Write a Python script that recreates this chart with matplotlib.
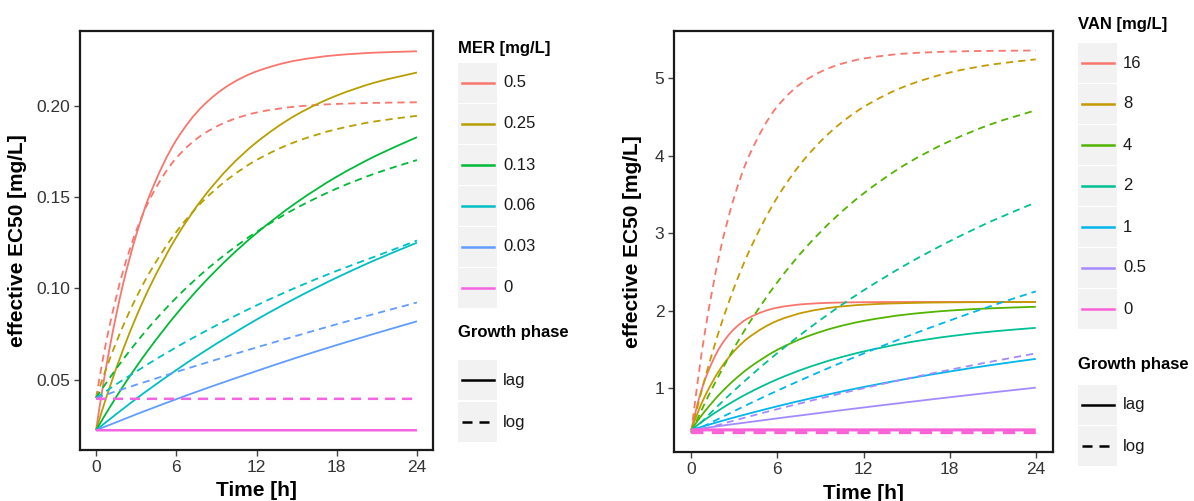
import matplotlib
matplotlib.use("Agg")
import matplotlib.pyplot as plt
from matplotlib.patches import Rectangle, PathPatch
from matplotlib.path import Path
from matplotlib.lines import Line2D

plt.rcParams['font.family'] = ['Liberation Sans', 'DejaVu Sans']

# ---------------------------------------------------------------- data
hours = [0, 0.5, 1, 2, 3, 4, 6, 8, 10, 12, 15, 18, 21, 24]

mer_levels = ['0.5', '0.25', '0.13', '0.06', '0.03', '0']
mer_colors = ['#F8766D', '#B79F00', '#00BA38', '#00BFC4', '#619CFF', '#F564E3']

# meropenem, lag-phase inoculum
mer_lag = [
    [0.0224, 0.0459, 0.0668, 0.1017, 0.1291, 0.1508, 0.1811, 0.1999, 0.2115, 0.2187, 0.2247, 0.2276, 0.2290, 0.2297],
    [0.0224, 0.0343, 0.0455, 0.0661, 0.0844, 0.1006, 0.1279, 0.1495, 0.1665, 0.1799, 0.1950, 0.2055, 0.2129, 0.2181],
    [0.0224, 0.0286, 0.0346, 0.0462, 0.0570, 0.0672, 0.0859, 0.1025, 0.1172, 0.1302, 0.1470, 0.1611, 0.1728, 0.1827],
    [0.0224, 0.0254, 0.0283, 0.0340, 0.0396, 0.0450, 0.0553, 0.0651, 0.0742, 0.0829, 0.0949, 0.1059, 0.1159, 0.1250],
    [0.0224, 0.0239, 0.0253, 0.0282, 0.0311, 0.0339, 0.0394, 0.0447, 0.0498, 0.0548, 0.0621, 0.0690, 0.0756, 0.0820],
    [0.0224, 0.0224, 0.0224, 0.0224, 0.0224, 0.0224, 0.0224, 0.0224, 0.0224, 0.0224, 0.0224, 0.0224, 0.0224, 0.0224],
]
# meropenem, log-phase inoculum
mer_log = [
    [0.0400, 0.0609, 0.0792, 0.1089, 0.1314, 0.1485, 0.1713, 0.1843, 0.1918, 0.1962, 0.1995, 0.2009, 0.2015, 0.2018],
    [0.0400, 0.0508, 0.0609, 0.0791, 0.0949, 0.1086, 0.1309, 0.1478, 0.1605, 0.1702, 0.1804, 0.1871, 0.1915, 0.1944],
    [0.0400, 0.0455, 0.0508, 0.0609, 0.0703, 0.0791, 0.0949, 0.1086, 0.1205, 0.1309, 0.1440, 0.1546, 0.1632, 0.1702],
    [0.0400, 0.0425, 0.0450, 0.0499, 0.0545, 0.0591, 0.0678, 0.0759, 0.0835, 0.0907, 0.1006, 0.1096, 0.1178, 0.1262],
    [0.0400, 0.0412, 0.0425, 0.0449, 0.0473, 0.0496, 0.0543, 0.0588, 0.0633, 0.0677, 0.0741, 0.0804, 0.0864, 0.0923],
    [0.0396, 0.0396, 0.0396, 0.0396, 0.0396, 0.0396, 0.0396, 0.0396, 0.0396, 0.0396, 0.0396, 0.0396, 0.0396, 0.0396],
]

van_levels = ['16', '8', '4', '2', '1', '0.5', '0']
van_colors = ['#F8766D', '#C49A00', '#53B400', '#00C094', '#00B6EB', '#A58AFF', '#FB61D7']

# vancomycin, lag-phase inoculum
van_lag = [
    [0.465, 0.843, 1.134, 1.532, 1.768, 1.909, 2.042, 2.089, 2.106, 2.112, 2.115, 2.115, 2.115, 2.115],
    [0.465, 0.709, 0.917, 1.245, 1.483, 1.656, 1.873, 1.987, 2.048, 2.080, 2.101, 2.110, 2.113, 2.114],
    [0.465, 0.597, 0.717, 0.930, 1.110, 1.262, 1.498, 1.665, 1.785, 1.870, 1.954, 2.004, 2.034, 2.053],
    [0.465, 0.536, 0.603, 0.727, 0.840, 0.942, 1.118, 1.262, 1.380, 1.476, 1.589, 1.673, 1.735, 1.781],
    [0.465, 0.493, 0.520, 0.574, 0.626, 0.675, 0.770, 0.858, 0.941, 1.018, 1.123, 1.218, 1.304, 1.381],
    [0.465, 0.478, 0.491, 0.516, 0.541, 0.565, 0.614, 0.661, 0.708, 0.754, 0.821, 0.886, 0.949, 1.010],
    [0.465, 0.465, 0.465, 0.465, 0.465, 0.465, 0.465, 0.465, 0.465, 0.465, 0.465, 0.465, 0.465, 0.465],
]
# vancomycin, log-phase inoculum
van_log = [
    [0.430, 1.159, 1.780, 2.760, 3.472, 3.989, 4.637, 4.979, 5.159, 5.254, 5.320, 5.344, 5.354, 5.358],
    [0.430, 0.808, 1.158, 1.778, 2.306, 2.756, 3.466, 3.982, 4.357, 4.629, 4.904, 5.074, 5.179, 5.244],
    [0.430, 0.633, 0.828, 1.193, 1.527, 1.833, 2.370, 2.821, 3.198, 3.514, 3.897, 4.189, 4.415, 4.588],
    [0.430, 0.525, 0.619, 0.800, 0.974, 1.141, 1.456, 1.747, 2.016, 2.264, 2.600, 2.898, 3.164, 3.398],
    [0.430, 0.478, 0.525, 0.617, 0.708, 0.798, 0.971, 1.137, 1.297, 1.450, 1.669, 1.875, 2.070, 2.252],
    [0.430, 0.457, 0.483, 0.535, 0.586, 0.636, 0.733, 0.826, 0.916, 1.002, 1.125, 1.240, 1.349, 1.452],
    [0.430, 0.430, 0.430, 0.430, 0.430, 0.430, 0.430, 0.430, 0.430, 0.430, 0.430, 0.430, 0.430, 0.430],
]

time_ticks = [0, 6, 12, 18, 24]
mer_yticks = [0.05, 0.10, 0.15, 0.20]
van_yticks = [1, 2, 3, 4, 5]

# ---------------------------------------------------------------- layout
W, H = 1194, 501
fig = plt.figure(figsize=(W / 100, H / 100), dpi=100)
fig.patch.set_facecolor('white')

LW = 1.3
DASH = (4, 2.8)
TICK_COLOR = '#333333'


def frac(x, y):
    """Pixel position (from top-left) to figure fraction."""
    return x / W, 1 - y / H


def smooth_path(xs, ys):
    """Cubic Bezier path through the points, with monotone (Fritsch-Carlson) tangents."""
    n = len(xs)
    h = [xs[i + 1] - xs[i] for i in range(n - 1)]
    d = [(ys[i + 1] - ys[i]) / h[i] for i in range(n - 1)]
    m = [0.0] * n
    m[0], m[-1] = d[0], d[-1]
    for i in range(1, n - 1):
        if d[i - 1] * d[i] <= 0:
            m[i] = 0.0
        else:
            w1 = 2 * h[i] + h[i - 1]
            w2 = h[i] + 2 * h[i - 1]
            m[i] = (w1 + w2) / (w1 / d[i - 1] + w2 / d[i])
    verts = [(xs[0], ys[0])]
    codes = [Path.MOVETO]
    for i in range(n - 1):
        verts += [(xs[i] + h[i] / 3, ys[i] + m[i] * h[i] / 3),
                  (xs[i + 1] - h[i] / 3, ys[i + 1] - m[i + 1] * h[i] / 3),
                  (xs[i + 1], ys[i + 1])]
        codes += [Path.CURVE4] * 3
    return Path(verts, codes)


def curve(ax, ys, color, lw, dashed):
    ls = (0, DASH) if dashed else '-'
    patch = PathPatch(smooth_path(hours, ys), facecolor='none', edgecolor=color,
                      lw=lw, linestyle=ls, capstyle='butt', zorder=3)
    ax.add_patch(patch)


def panel(rect, lag, log, colors, yticks, yfmt, ylim, ylabel_x, last_lw):
    ax = fig.add_axes(rect)
    n = len(colors)
    for i in range(n):
        lw = last_lw if i == n - 1 else LW
        curve(ax, lag[i], colors[i], lw, False)
        curve(ax, log[i], colors[i], lw, True)
    ax.set_xlim(-1.2, 25.2)
    ax.set_ylim(*ylim)
    ax.set_xticks(time_ticks)
    ax.set_xticklabels([str(t) for t in time_ticks])
    ax.set_yticks(yticks)
    ax.set_yticklabels([yfmt.format(v) for v in yticks])
    ax.tick_params(direction='out', length=4, width=1.0, color='#444444',
                   labelsize=12.5, labelcolor=TICK_COLOR, pad=3)
    for s in ax.spines.values():
        s.set_linewidth(1.6)
        s.set_color('#1a1a1a')
    ax.set_xlabel('Time [h]', fontsize=15, fontweight='bold')
    ax.set_ylabel('effective EC50 [mg/L]', fontsize=15, fontweight='bold')
    ax.xaxis.set_label_coords(0.5, -0.075)
    ax.yaxis.set_label_coords(ylabel_x, 0.5)
    return ax


# left panel: x 80-433 px, y 31-450 px
l0, b0 = frac(80, 450)
panel([l0, b0, 353 / W, 419 / H], mer_lag, mer_log, mer_colors, mer_yticks,
      '{:.2f}', (0.0116, 0.2408), -0.15, 1.8)

# right panel: x 674-1053 px, y 31-452 px
l1, b1 = frac(674, 452)
panel([l1, b1, 379 / W, 421 / H], van_lag, van_log, van_colors, van_yticks,
      '{:d}', (0.18, 5.61), -0.085, 2.2)


# ---------------------------------------------------------------- legends
def key_box(x0, cy):
    fx, fy = frac(x0, cy + 20)
    fig.add_artist(Rectangle((fx, fy), 39 / W, 40 / H, transform=fig.transFigure,
                             facecolor='#F2F2F2', edgecolor='none', zorder=1))


def key_line(x0, cy, color, dashed=False):
    xa, ya = frac(x0 + 3.5, cy)
    xb, _ = frac(x0 + 36, cy)
    kw = dict(dashes=DASH, dash_capstyle='butt') if dashed else {}
    fig.add_artist(Line2D([xa, xb], [ya, ya], transform=fig.transFigure,
                          color=color, lw=1.8, zorder=2, **kw))


def legend(x0, title, title_y, centers, labels, colors, gp_title_y, gp_centers):
    tx, ty = frac(x0, title_y)
    fig.text(tx, ty, title, fontsize=12, fontweight='bold', va='center', ha='left')
    for cy, lab, col in zip(centers, labels, colors):
        key_box(x0, cy)
        key_line(x0, cy, col)
        lx, ly = frac(x0 + 45, cy)
        fig.text(lx, ly, lab, fontsize=12, va='center', ha='left', color='#1a1a1a')
    gx, gy = frac(x0, gp_title_y)
    fig.text(gx, gy, 'Growth phase', fontsize=12, fontweight='bold', va='center', ha='left')
    for cy, lab, dashed in zip(gp_centers, ['lag', 'log'], [False, True]):
        key_box(x0, cy)
        key_line(x0, cy, 'black', dashed)
        lx, ly = frac(x0 + 45, cy)
        fig.text(lx, ly, lab, fontsize=12, va='center', ha='left', color='#1a1a1a')


legend(458, 'MER [mg/L]', 48, [83, 124, 165, 206, 247, 288], mer_levels, mer_colors,
       333, [380, 422])
legend(1078, 'VAN [mg/L]', 25, [63, 104, 145, 186, 227, 268, 309], van_levels, van_colors,
       364, [405, 446])

fig.savefig('out.png', dpi=100, facecolor='white')
